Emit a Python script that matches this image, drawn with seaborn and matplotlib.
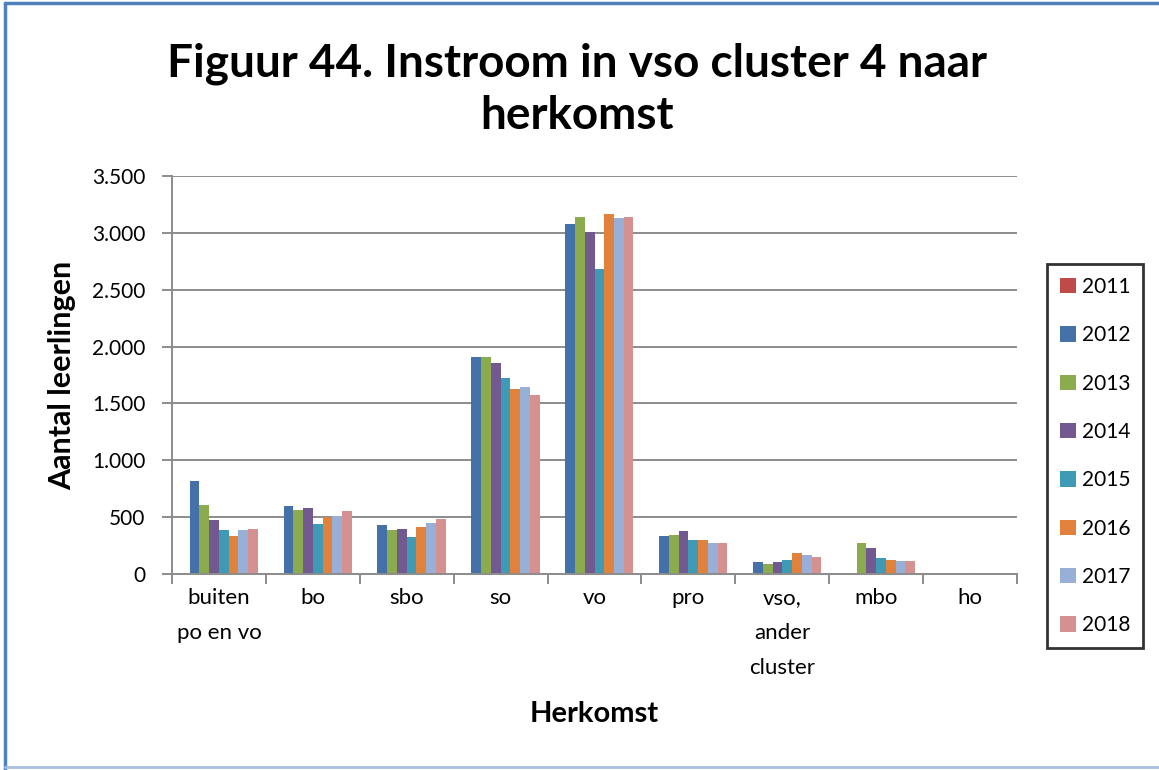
import matplotlib
matplotlib.use("Agg")
import matplotlib.pyplot as plt
from matplotlib.lines import Line2D
from matplotlib.ticker import FuncFormatter, FixedLocator
import seaborn as sns
import pandas as pd

categories = ["buiten\npo en vo", "bo", "sbo", "so", "vo", "pro",
              "vso,\nander\ncluster", "mbo", "ho"]
years = ["2011", "2012", "2013", "2014", "2015", "2016", "2017", "2018"]

v2011 = [0, 0, 0, 0, 0, 0, 0, 0, 0]
v2012 = [818, 599, 427, 1912, 3080, 330, 105, 0, 0]
v2013 = [611, 567, 383, 1912, 3140, 342, 91, 272, 12]
v2014 = [474, 579, 395, 1859, 3010, 374, 105, 228, 0]
v2015 = [383, 439, 328, 1721, 2685, 295, 126, 140, 12]
v2016 = [336, 497, 415, 1629, 3165, 295, 184, 126, 12]
v2017 = [383, 512, 450, 1641, 3130, 272, 170, 114, 10]
v2018 = [395, 558, 482, 1574, 3140, 272, 149, 114, 0]

series = [v2011, v2012, v2013, v2014, v2015, v2016, v2017, v2018]
colors = ["#BE4B48", "#4472A8", "#8CAA4E", "#72598F", "#3E9AB5",
          "#E0823B", "#98AFD8", "#D59090"]

rows = []
for year, vals in zip(years, series):
    for cat, v in zip(categories, vals):
        rows.append({"Herkomst": cat, "Jaar": year, "Aantal": v})
df = pd.DataFrame(rows)

sns.set_theme(style="white")
plt.rcParams["font.family"] = ["Lato", "DejaVu Sans"]
plt.rcParams["text.color"] = "black"
plt.rcParams["axes.labelcolor"] = "black"
plt.rcParams["xtick.color"] = "black"
plt.rcParams["ytick.color"] = "black"

fig = plt.figure(figsize=(11.59, 7.70), dpi=100)
ax = fig.add_axes([172 / 1159, 1 - 574 / 770, (1017 - 172) / 1159, (574 - 176) / 770])

sns.barplot(data=df, x="Herkomst", y="Aantal", hue="Jaar", order=categories,
            hue_order=years, palette=colors, width=0.83, gap=0,
            linewidth=0, saturation=1, ax=ax, legend=False)

grid_c = "#8C8C8C"
ax.set_ylim(0, 3500)
ax.set_xlim(-0.5, len(categories) - 0.5)
ax.set_yticks(range(0, 3501, 500))
ax.yaxis.set_major_formatter(FuncFormatter(lambda v, p: f"{int(v):,}".replace(",", ".")))
ax.grid(axis="y", color=grid_c, linewidth=1.4)
ax.set_axisbelow(True)
for s in ["top", "right"]:
    ax.spines[s].set_visible(False)
for s in ["left", "bottom"]:
    ax.spines[s].set_color(grid_c)
    ax.spines[s].set_linewidth(1.4)

ax.tick_params(axis="y", which="major", left=True, length=7, width=1.4,
               color=grid_c, labelsize=15, pad=12, labelcolor="black")
ax.set_xticks(range(len(categories)))
ax.set_xticklabels(categories, fontsize=16, linespacing=1.95, va="top")
ax.tick_params(axis="x", which="major", length=0, pad=10, labelcolor="black")
ax.xaxis.set_minor_locator(FixedLocator([i - 0.5 for i in range(len(categories) + 1)]))
ax.tick_params(axis="x", which="minor", bottom=True, length=7, width=1.4, color=grid_c)

ax.set_xlabel("Herkomst", fontsize=21, fontweight="bold")
ax.set_ylabel("Aantal leerlingen", fontsize=22, fontweight="bold")
ax.xaxis.set_label_coords(0.5, -0.318)
ax.yaxis.set_label_coords(-0.113, 0.5)

fig.text(0.498, 1 - 90 / 770, "Figuur 44. Instroom in vso cluster 4 naar\nherkomst",
         ha="center", va="center", fontsize=33, fontweight="bold", linespacing=1.3,
         color="black")

handles = [plt.Rectangle((0, 0), 1, 1, facecolor=c, edgecolor="none") for c in colors]
leg = fig.legend(handles, years, loc="upper left",
                 bbox_to_anchor=(1047 / 1159, 1 - 264 / 770),
                 fontsize=15, frameon=True, fancybox=False, labelspacing=1.36,
                 handlelength=0.75, handleheight=0.75, handletextpad=0.3,
                 borderpad=0.62, borderaxespad=0)
leg.get_frame().set_edgecolor("black")
leg.get_frame().set_linewidth(2)

# outer chart frame
blue = "#4F81BD"
fig.add_artist(Line2D([5 / 1159, 5 / 1159], [0, 1 - 3 / 770], color=blue, linewidth=2.5))
fig.add_artist(Line2D([5 / 1159, 1], [1 - 3 / 770, 1 - 3 / 770], color=blue, linewidth=2.5))
fig.add_artist(Line2D([5 / 1159, 1], [1 - 767 / 770, 1 - 767 / 770], color="#A9C0E4", linewidth=2))

fig.savefig("out.png", dpi=100)
